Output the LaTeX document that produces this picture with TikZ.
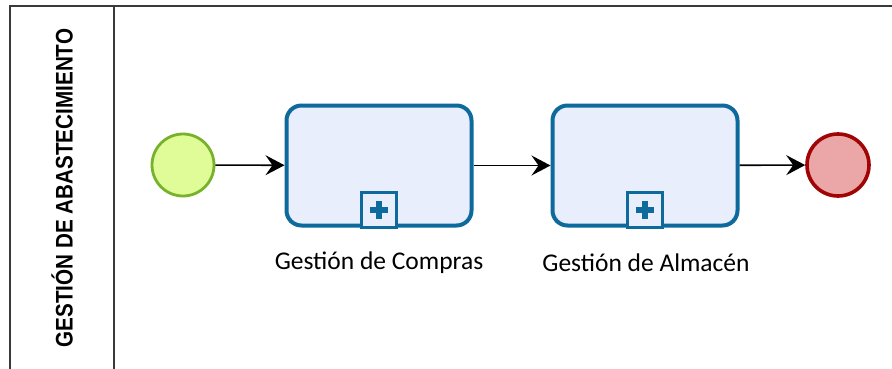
\documentclass[tikz,border=0pt]{standalone}
\usepackage{fontspec}
\setmainfont{Carlito}
\newfontfamily\titlefont{Liberation Sans}
\usetikzlibrary{arrows.meta}
\definecolor{poolline}{HTML}{3A3A3A}
\definecolor{startfill}{HTML}{E0FC98}
\definecolor{startline}{HTML}{78B22A}
\definecolor{taskfill}{HTML}{E9EEFC}
\definecolor{taskline}{HTML}{0E6A9C}
\definecolor{endfill}{HTML}{EBA7A7}
\definecolor{endline}{HTML}{A10404}
\tikzset{
  pool/.style={draw=poolline, line width=1.6pt},
  startevent/.style={circle, draw=startline, fill=startfill, line width=2.8pt, minimum size=62pt, inner sep=0pt},
  endevent/.style={circle, draw=endline, fill=endfill, line width=3.6pt, minimum size=62pt, inner sep=0pt},
  subprocess/.style={draw=taskline, fill=taskfill, line width=4pt, rounded corners=15pt, minimum width=185pt, minimum height=120pt, inner sep=0pt},
  expandmark/.style={draw=taskline, fill=taskfill, line width=2.4pt, minimum width=35pt, minimum height=35pt, inner sep=0pt},
  flow/.style={draw=black, line width=1.6pt, -{Stealth[length=19pt, width=20pt, inset=7pt]}},
  tasklabel/.style={font=\fontsize{25.5}{28}\selectfont, text=black, inner sep=0pt},
}
\begin{document}
\begin{tikzpicture}[x=1pt, y=-1pt]
  \useasboundingbox (0,0) rectangle (892,369);
  \fill[white] (0,0) rectangle (892,369);
  % pool and lane header
  \draw[pool] (10,380) -- (10,6) -- (900,6);
  \draw[pool] (114,6) -- (114,380);
  \node[rotate=90, inner sep=0pt] (lanetitle) at (62,188)
    {\scalebox{0.86}[1]{\titlefont\bfseries\fontsize{24}{26}\selectfont GESTIÓN DE ABASTECIMIENTO}};
  % events and sub-processes
  \node[startevent] (start) at (183,165) {};
  \node[subprocess] (compras) at (379,165.5) {};
  \node[subprocess] (almacen) at (645,165.5) {};
  \node[endevent] (finish) at (838,165) {};
  % collapsed sub-process markers
  \foreach \t in {compras, almacen} {
    \node[expandmark, anchor=south] (\t-mark) at ([yshift=-1pt]\t.south) {};
    \fill[taskline] ([xshift=-9pt,yshift=-3pt]\t-mark.center) rectangle ([xshift=9pt,yshift=3pt]\t-mark.center);
    \fill[taskline] ([xshift=-3pt,yshift=-9pt]\t-mark.center) rectangle ([xshift=3pt,yshift=9pt]\t-mark.center);
  }
  % labels
  \node[tasklabel] (comprasLabel) at (379,263) {Gestión de Compras};
  \node[tasklabel] (almacenLabel) at (646,263) {Gestión de Almacén};
  % sequence flows
  \draw[flow] (start) -- (compras);
  \draw[flow] (compras) -- (almacen);
  \draw[flow] (almacen) -- (finish);
\end{tikzpicture}
\end{document}
